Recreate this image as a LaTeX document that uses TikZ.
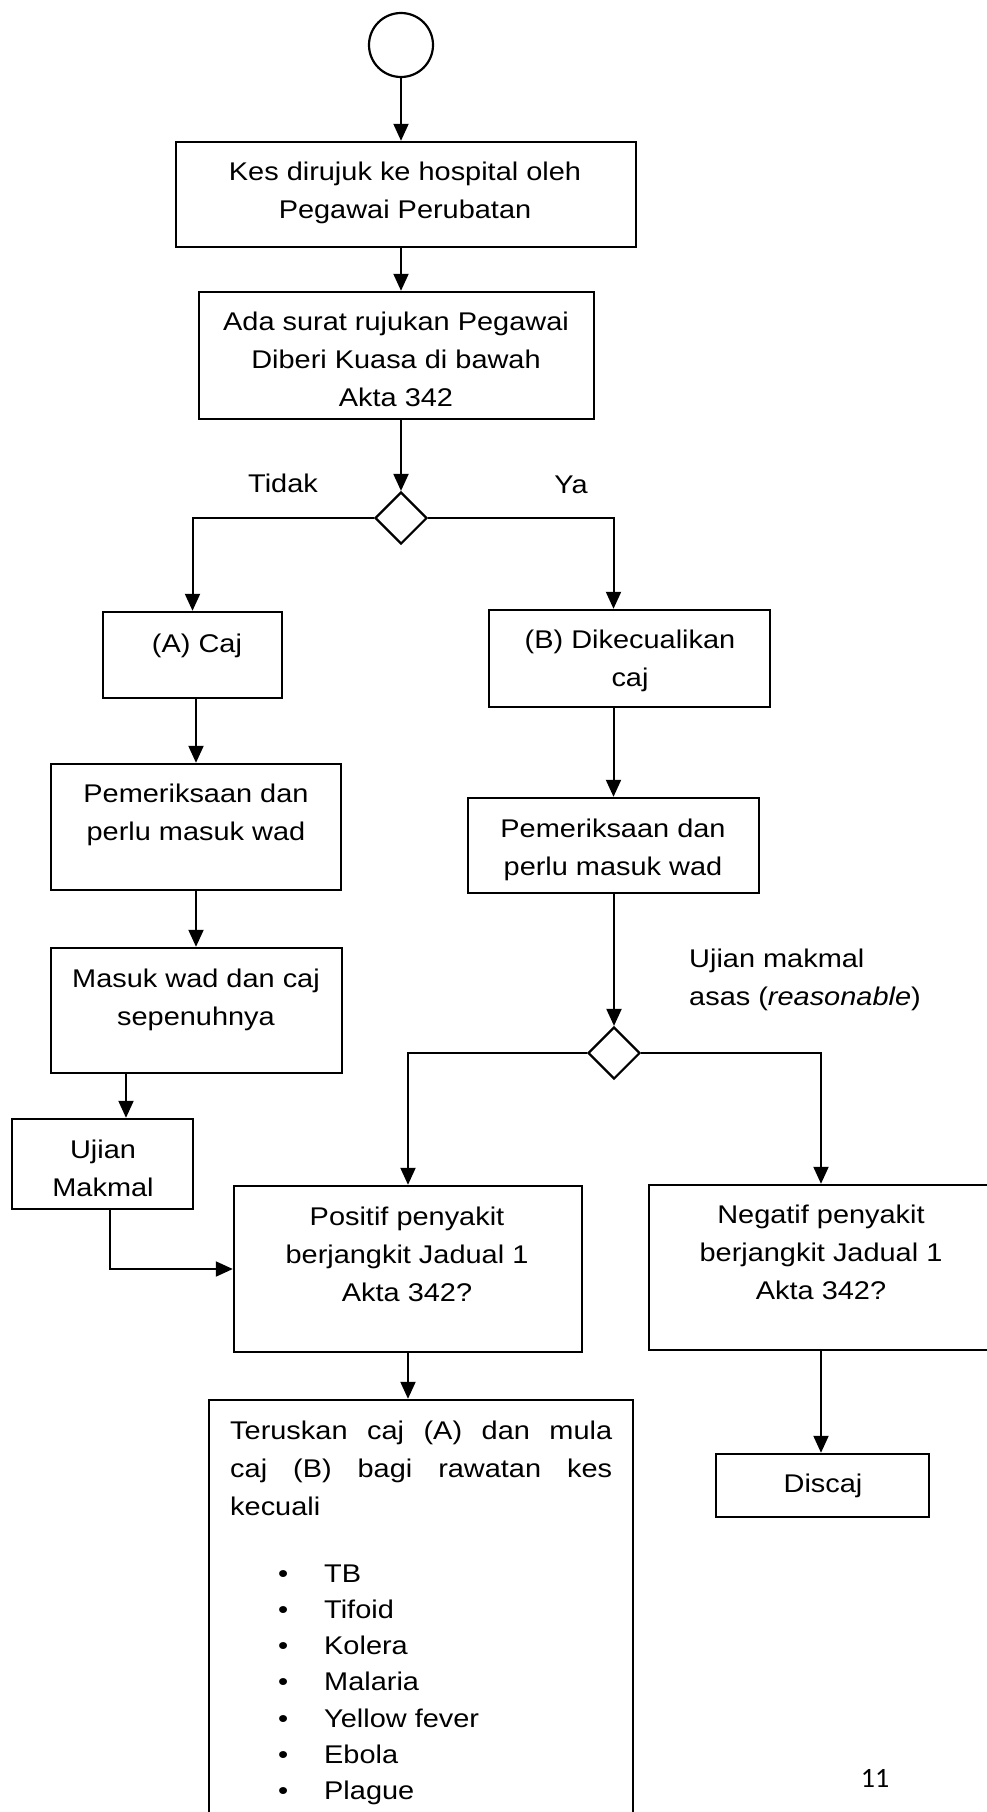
\documentclass[tikz,border=0pt]{standalone}
\usepackage{fontspec}
\setmainfont{Liberation Sans}[FakeStretch=1.13]
\newfontfamily\pagenumfont{Carlito}
\usetikzlibrary{arrows.meta,shapes.geometric}
\newcommand{\boxtext}[1]{\parbox[t]{480pt}{\centering #1}}
\begin{document}
\begin{tikzpicture}[x=1pt,y=-1pt,
  every node/.style={font=\fontsize{25.6pt}{38pt}\selectfont},
  box/.style={draw, line width=2.4pt, rectangle, inner sep=0pt},
  dec/.style={draw, line width=2.2pt, diamond, minimum width=52pt, minimum height=52pt, inner sep=0pt},
  txt/.style={inner sep=0pt, anchor=base},
  conn/.style={line width=2pt, -{Triangle[length=17pt,width=15pt]}}
]
\useasboundingbox (0,0) rectangle (986,1812);
\fill[white] (0,0) rectangle (986,1812);

% nodes
\node[circle, draw, line width=2.2pt, minimum size=64pt, inner sep=0pt] (start) at (401,45) {};
\node[box, minimum width=460pt, minimum height=105pt] (b1) at (406,194.5) {};
\node[txt] (t1) at (405,180) {\boxtext{Kes dirujuk ke hospital oleh\\Pegawai Perubatan}};
\node[box, minimum width=395pt, minimum height=127pt] (b2) at (396.5,355.5) {};
\node[txt] (t2) at (396,330) {\boxtext{Ada surat rujukan Pegawai\\Diberi Kuasa di bawah\\Akta 342}};
\node[dec] (d1) at (401,518) {};
\node[txt] (tidak) at (283,492) {Tidak};
\node[txt] (ya) at (571,493) {Ya};

\node[box, minimum width=179pt, minimum height=86pt] (bA) at (192.5,655) {};
\node[txt] (tA) at (197,652) {(A) Caj};
\node[box, minimum width=281pt, minimum height=97pt] (bB) at (629.5,658.5) {};
\node[txt] (tB) at (630,648) {\boxtext{(B) Dikecualikan\\caj}};

\node[box, minimum width=290pt, minimum height=126pt] (pA) at (196,827) {};
\node[txt] (tpA) at (196,802) {\boxtext{Pemeriksaan dan\\perlu masuk wad}};
\node[box, minimum width=291pt, minimum height=95pt] (pB) at (613.5,845.5) {};
\node[txt] (tpB) at (613,837) {\boxtext{Pemeriksaan dan\\perlu masuk wad}};

\node[box, minimum width=291pt, minimum height=125pt] (mA) at (196.5,1010.5) {};
\node[txt] (tmA) at (196,987) {\boxtext{Masuk wad dan caj\\sepenuhnya}};
\node[box, minimum width=181pt, minimum height=90pt] (uA) at (102.5,1164) {};
\node[txt] (tuA) at (103,1158) {\boxtext{Ujian\\Makmal}};

\node[txt, anchor=base west] (lab) at (689,967) {\parbox[t]{300pt}{\raggedright Ujian makmal\\asas (\textit{reasonable})}};
\node[dec] (d2) at (614,1053) {};

\node[box, minimum width=348pt, minimum height=166pt] (pos) at (408,1269) {};
\node[txt] (tpos) at (407,1225) {\boxtext{Positif penyakit\\berjangkit Jadual 1\\Akta 342?}};
\node[box, minimum width=344pt, minimum height=165pt] (neg) at (821,1267.5) {};
\node[txt] (tneg) at (821,1223) {\boxtext{Negatif penyakit\\berjangkit Jadual 1\\Akta 342?}};

\node[box, minimum width=213pt, minimum height=63pt] (disc) at (822.5,1485.5) {};
\node[txt] (tdisc) at (823,1492) {Discaj};

\node[box, minimum width=424pt, minimum height=440pt] (ter) at (421,1620) {};
\node[txt, anchor=base west] (tter) at (230,1439) {\parbox[t]{382pt}{\makebox[382pt][s]{Teruskan caj (A) dan mula}\\\makebox[382pt][s]{caj (B) bagi rawatan kes}\\kecuali}};
\node[txt, anchor=base west] (list) at (278,1582) {\parbox[t]{300pt}{\fontsize{25.6pt}{36.3pt}\selectfont\raggedright
\makebox[46pt][l]{\textbullet}TB\\
\makebox[46pt][l]{\textbullet}Tifoid\\
\makebox[46pt][l]{\textbullet}Kolera\\
\makebox[46pt][l]{\textbullet}Malaria\\
\makebox[46pt][l]{\textbullet}Yellow fever\\
\makebox[46pt][l]{\textbullet}Ebola\\
\makebox[46pt][l]{\textbullet}Plague}};

\node[txt, font=\pagenumfont\fontsize{28pt}{30pt}\selectfont] (pg) at (875,1787) {11};

% connectors
\draw[conn] (start) -- (b1.north -| start);
\draw[conn] (b1.south -| d1) -- (b2.north -| d1);
\draw[conn] (b2.south -| d1) -- (d1.north);
\draw[conn] (d1.west) -| (bA.north);
\draw[conn] (d1.east) -| (bB.north -| pB.north);
\draw[conn] (bA.south -| pA.north) -- (pA.north);
\draw[conn] (bB.south -| pB.north) -- (pB.north);
\draw[conn] (pA.south) -- (mA.north -| pA.south);
\draw[conn] ([xshift=23.5pt]uA.north |- mA.south) -- ([xshift=23.5pt]uA.north);
\draw[conn] ([xshift=7.5pt]uA.south) |- (pos.west);
\draw[conn] (pB.south -| d2.north) -- (d2.north);
\draw[conn] (d2.west) -| (pos.north);
\draw[conn] (d2.east) -| (neg.north);
\draw[conn] (pos.south) -- (ter.north -| pos.south);
\draw[conn] (neg.south) -- (disc.north -| neg.south);
\end{tikzpicture}
\end{document}
